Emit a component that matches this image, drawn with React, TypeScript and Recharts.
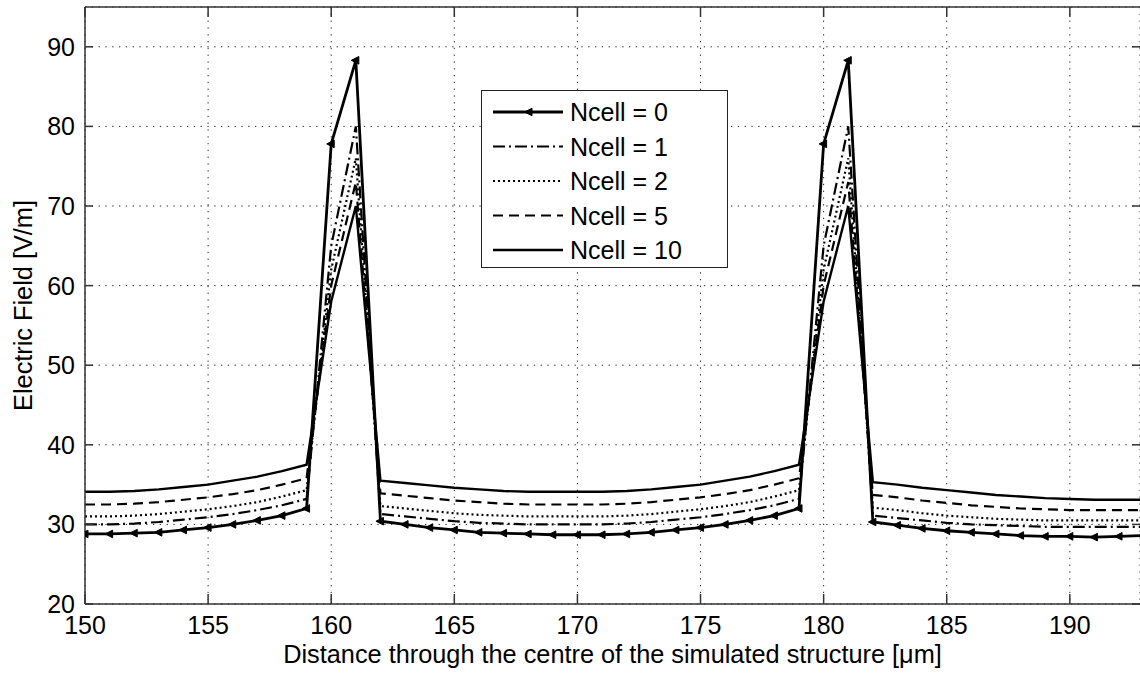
import React from 'react';
import { LineChart, Line, XAxis, YAxis, CartesianGrid, Legend, ReferenceLine } from 'recharts';

// ---------- data ----------
const distance = [
  150, 151, 152, 153, 154, 155, 156, 157, 158, 159,
  160, 161,
  162, 163, 164, 165, 166, 167, 168, 169, 170, 171, 172, 173, 174, 175, 176, 177, 178, 179,
  180, 181,
  182, 183, 184, 185, 186, 187, 188, 189, 190, 191, 192, 193,
];

const ncell0 = [
  28.8, 28.8, 28.9, 29.0, 29.3, 29.6, 30.0, 30.5, 31.1, 32.0,
  77.8, 88.3,
  30.4, 30.0, 29.6, 29.3, 29.0, 28.9, 28.8, 28.7, 28.7, 28.7, 28.8, 29.0, 29.3, 29.6, 30.0, 30.5, 31.1, 32.0,
  77.8, 88.3,
  30.3, 29.9, 29.5, 29.2, 29.0, 28.8, 28.6, 28.5, 28.5, 28.4, 28.5, 28.6,
];

const ncell1 = [
  30.0, 30.0, 30.1, 30.3, 30.6, 30.9, 31.3, 31.8, 32.4, 33.2,
  65, 80,
  31.3, 31.0, 30.7, 30.4, 30.2, 30.1, 30.0, 30.0, 30.0, 30.0, 30.1, 30.3, 30.6, 30.9, 31.3, 31.8, 32.4, 33.2,
  65, 80,
  31.1, 30.8, 30.5, 30.2, 30.0, 29.9, 29.8, 29.7, 29.7, 29.7, 29.7, 29.7,
];

const ncell2 = [
  31.0, 31.0, 31.1, 31.3, 31.6, 31.9, 32.3, 32.8, 33.5, 34.3,
  62, 76,
  32.3, 32.0, 31.7, 31.4, 31.2, 31.1, 31.0, 31.0, 31.0, 31.0, 31.1, 31.3, 31.6, 31.9, 32.3, 32.8, 33.5, 34.3,
  62, 76,
  32.1, 31.8, 31.4, 31.1, 30.9, 30.7, 30.6, 30.5, 30.5, 30.5, 30.5, 30.5,
];

const ncell5 = [
  32.5, 32.5, 32.6, 32.8, 33.1, 33.4, 33.8, 34.3, 35.0, 35.8,
  60, 73,
  33.9, 33.6, 33.3, 33.0, 32.8, 32.6, 32.5, 32.5, 32.5, 32.5, 32.6, 32.8, 33.1, 33.4, 33.8, 34.3, 35.0, 35.8,
  60, 73,
  33.7, 33.4, 33.0, 32.7, 32.4, 32.2, 32.0, 31.9, 31.8, 31.8, 31.8, 31.8,
];

const ncell10 = [
  34.1, 34.1, 34.2, 34.4, 34.7, 35.0, 35.5, 36.0, 36.7, 37.5,
  58, 70,
  35.5, 35.2, 34.9, 34.6, 34.4, 34.2, 34.1, 34.1, 34.1, 34.1, 34.2, 34.4, 34.7, 35.0, 35.5, 36.0, 36.7, 37.5,
  58, 70,
  35.3, 35.0, 34.6, 34.3, 34.0, 33.7, 33.5, 33.3, 33.2, 33.1, 33.1, 33.1,
];

const xTicks = [150, 155, 160, 165, 170, 175, 180, 185, 190];
const yTicks = [20, 30, 40, 50, 60, 70, 80, 90];
const seriesNames = ['Ncell = 0', 'Ncell = 1', 'Ncell = 2', 'Ncell = 5', 'Ncell = 10'];
const xLabel = 'Distance through the centre of the simulated structure [\u03bcm]';
const yLabel = 'Electric Field [V/m]';

const rows = distance.map((d, i) => ({
  x: d,
  n0: ncell0[i],
  n1: ncell1[i],
  n2: ncell2[i],
  n5: ncell5[i],
  n10: ncell10[i],
}));

// ---------- styling / layout ----------
const W = 1140;
const H = 675;
const PLOT_TOP = 7;
const Y_AXIS_W = 85;
const X_AXIS_H = 71;
const PLOT_BOTTOM = H - X_AXIS_H;
const PLOT_RIGHT = W;
const FONT = '"Liberation Sans", Arial, Helvetica, sans-serif';
const TICK_FONT = 25;
const LABEL_FONT = 25.3;
const FRAME = '#333';

const seriesStyle = [
  { key: 'n0', width: 2.8, dash: undefined as string | undefined, marker: true },
  { key: 'n1', width: 2.2, dash: '12 4 2 4', marker: false },
  { key: 'n2', width: 2.2, dash: '2 3', marker: false },
  { key: 'n5', width: 2.2, dash: '10 6', marker: false },
  { key: 'n10', width: 2.4, dash: undefined as string | undefined, marker: false },
];

const Tri = ({ cx, cy }: { cx: number; cy: number }) => (
  <polygon
    points={`${cx - 4.5},${cy} ${cx + 3},${cy - 3.8} ${cx + 3},${cy + 3.8}`}
    fill="#000"
    stroke="#000"
    strokeWidth={1}
  />
);

const renderDot = (props: any) => {
  const { cx, cy, index } = props;
  if (cx == null || cy == null) return <g key={`d${index}`} />;
  return (
    <g key={`d${index}`}>
      <Tri cx={cx} cy={cy} />
    </g>
  );
};

const XTick = (props: any) => {
  const { x, y, payload } = props;
  return (
    <g>
      <line x1={x} x2={x} y1={PLOT_BOTTOM} y2={PLOT_BOTTOM - 10} stroke={FRAME} strokeWidth={1.5} />
      <line x1={x} x2={x} y1={PLOT_TOP} y2={PLOT_TOP + 10} stroke={FRAME} strokeWidth={1.5} />
      <text x={x} y={y} dy="0.71em" textAnchor="middle" fontSize={TICK_FONT} fontFamily={FONT} fill="#000">
        {payload.value}
      </text>
    </g>
  );
};

const YTick = (props: any) => {
  const { x, y, payload } = props;
  return (
    <g>
      <line x1={Y_AXIS_W} x2={Y_AXIS_W + 8} y1={y} y2={y} stroke={FRAME} strokeWidth={1.5} />
      <line x1={PLOT_RIGHT - 8} x2={PLOT_RIGHT} y1={y} y2={y} stroke={FRAME} strokeWidth={1.5} />
      <text x={x} y={y} dy="0.36em" textAnchor="end" fontSize={TICK_FONT} fontFamily={FONT} fill="#000">
        {payload.value}
      </text>
    </g>
  );
};

const renderLegend = (props: any) => {
  const payload: any[] = props.payload ?? [];
  const ordered = seriesStyle.map((st, i) => {
    const found = payload.find((p: any) => p.dataKey === st.key);
    return { st, label: found ? found.value : seriesNames[i] };
  });
  return (
    <div
      style={{
        width: 247,
        height: 178,
        boxSizing: 'border-box',
        border: '1.5px solid #222',
        background: '#fff',
      }}
    >
      <svg width={244} height={175} style={{ display: 'block' }}>
        {ordered.map(({ st, label }, i) => {
          const cy = 21 + i * 34.5;
          return (
            <g key={st.key}>
              <line
                x1={11}
                x2={81}
                y1={cy}
                y2={cy}
                stroke="#000"
                strokeWidth={st.width}
                strokeDasharray={st.dash}
              />
              {st.marker && <Tri cx={47} cy={cy} />}
              <text x={88} y={cy} dy="0.36em" fontSize={TICK_FONT} fontFamily={FONT} fill="#000">
                {label}
              </text>
            </g>
          );
        })}
      </svg>
    </div>
  );
};

export default function App() {
  return (
    <div style={{ position: 'absolute', left: 0, top: 0, width: W, height: H, background: '#fff', overflow: 'hidden' }}>
      <LineChart width={W} height={H} data={rows} margin={{ top: PLOT_TOP, right: 0, bottom: 0, left: 0 }}>
        <CartesianGrid stroke="#222" strokeDasharray="1.3 5.5" strokeWidth={1} />
        <XAxis
          dataKey="x"
          type="number"
          domain={[150, 192.85]}
          allowDataOverflow
          ticks={xTicks}
          interval={0}
          height={X_AXIS_H}
          tickSize={0}
          tickMargin={12}
          tick={<XTick />}
          axisLine={{ stroke: FRAME, strokeWidth: 1.5 }}
          label={{
            value: xLabel,
            position: 'insideBottom',
            offset: 12,
            style: { fontSize: LABEL_FONT, fontFamily: FONT, fill: '#000' },
          }}
        />
        <YAxis
          type="number"
          domain={[20, 95]}
          allowDataOverflow
          ticks={yTicks}
          interval={0}
          width={Y_AXIS_W}
          tickSize={0}
          tickMargin={10}
          tick={<YTick />}
          axisLine={{ stroke: FRAME, strokeWidth: 1.5 }}
          label={{
            value: yLabel,
            angle: -90,
            position: 'insideLeft',
            offset: 23,
            style: { fontSize: LABEL_FONT, fontFamily: FONT, fill: '#000', textAnchor: 'middle' },
          }}
        />
        <ReferenceLine y={95} stroke={FRAME} strokeWidth={1.5} />
        <Legend
          layout="vertical"
          align="center"
          verticalAlign="middle"
          content={renderLegend}
          wrapperStyle={{ left: 481, top: 90, width: 247, height: 178 }}
        />
        {seriesStyle.map((s, i) => (
          <Line
            key={s.key}
            type="linear"
            dataKey={s.key}
            name={seriesNames[i]}
            stroke="#000"
            strokeWidth={s.width}
            strokeDasharray={s.dash}
            dot={s.marker ? renderDot : false}
            activeDot={false}
            isAnimationActive={false}
          />
        ))}
      </LineChart>
    </div>
  );
}
